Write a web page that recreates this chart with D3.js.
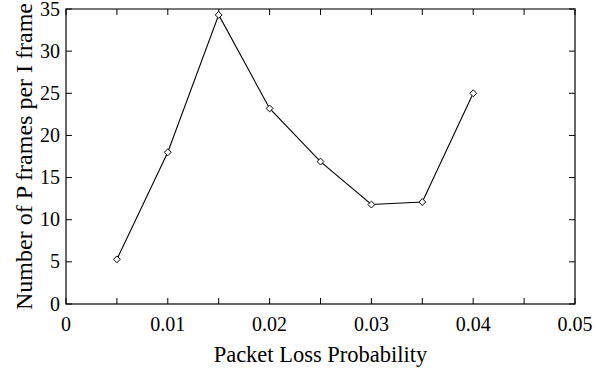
<!DOCTYPE html>
<html>
<head>
<meta charset="utf-8">
<script src="https://cdn.jsdelivr.net/npm/d3@7"></script>
<style>
  body { margin: 0; background: #fff; }
  text { font-family: "Liberation Serif", "Times New Roman", serif; fill: #000; }
</style>
</head>
<body>
<svg id="chart" width="605" height="369"></svg>
<script>
const lossProb = [0.005, 0.01, 0.015, 0.02, 0.025, 0.03, 0.035, 0.04];
const pPerI = [5.3, 18.0, 34.3, 23.2, 16.9, 11.8, 12.1, 25.0];
const xTicks = [0, 0.01, 0.02, 0.03, 0.04, 0.05];
const xMinor = [0.005, 0.015, 0.025, 0.035, 0.045];
const yTicks = [0, 5, 10, 15, 20, 25, 30, 35];

const margin = { left: 66, right: 30, top: 9, bottom: 65 };
const width = 605, height = 369;
const svg = d3.select('#chart');

const x = d3.scaleLinear().domain([0, 0.05]).range([margin.left, width - margin.right]);
const y = d3.scaleLinear().domain([0, 35]).range([height - margin.bottom, margin.top]);

const tickLen = 6;

// cadre
svg.append('rect')
    .attr('x', x(0)).attr('y', y(35))
    .attr('width', x(0.05) - x(0)).attr('height', y(0) - y(35))
    .attr('fill', 'none').attr('stroke', '#000').attr('stroke-width', 1.2);
svg.append('line')
    .attr('x1', x(0)).attr('x2', x(0.05)).attr('y1', y(35)).attr('y2', y(35))
    .attr('stroke', '#777').attr('stroke-width', 2);

// ticks x (bas et haut, vers l'intérieur)
const allX = xTicks.concat(xMinor);
svg.selectAll('.xt-b').data(allX).enter().append('line')
    .attr('x1', d => x(d)).attr('x2', d => x(d))
    .attr('y1', y(0)).attr('y2', y(0) - tickLen)
    .attr('stroke', '#000');
svg.selectAll('.xt-t').data(allX).enter().append('line')
    .attr('x1', d => x(d)).attr('x2', d => x(d))
    .attr('y1', y(35)).attr('y2', y(35) + tickLen)
    .attr('stroke', '#000');

// ticks y (gauche et droite)
svg.selectAll('.yt-l').data(yTicks).enter().append('line')
    .attr('x1', x(0)).attr('x2', x(0) + tickLen)
    .attr('y1', d => y(d)).attr('y2', d => y(d))
    .attr('stroke', '#000');
svg.selectAll('.yt-r').data(yTicks).enter().append('line')
    .attr('x1', x(0.05)).attr('x2', x(0.05) - tickLen)
    .attr('y1', d => y(d)).attr('y2', d => y(d))
    .attr('stroke', '#000');

// labels
svg.selectAll('.xl').data(xTicks).enter().append('text')
    .attr('x', d => x(d)).attr('y', y(0) + 27)
    .attr('text-anchor', 'middle').style('font-size', '20px')
    .text(d => d === 0 ? '0' : d3.format('.2f')(d));
svg.selectAll('.yl').data(yTicks).enter().append('text')
    .attr('x', x(0) - 6).attr('y', d => y(d) + 6.5)
    .attr('text-anchor', 'end').style('font-size', '20px')
    .text(d => d);

svg.append('text')
    .attr('x', (x(0) + x(0.05)) / 2).attr('y', 362)
    .attr('text-anchor', 'middle').style('font-size', '22.5px')
    .text('Packet Loss Probability');
svg.append('text')
    .attr('transform', `translate(32, ${(y(0) + y(35)) / 2}) rotate(-90)`)
    .attr('text-anchor', 'middle').style('font-size', '24px')
    .text('Number of P frames per I frame');

// courbe
const data = lossProb.map((p, i) => ({ p, v: pPerI[i] }));
const line = d3.line().x(d => x(d.p)).y(d => y(d.v));
svg.append('path').datum(data)
    .attr('d', line).attr('fill', 'none')
    .attr('stroke', '#000').attr('stroke-width', 1.1);

const sym = d3.symbol().type(d3.symbolDiamond2).size(30);
svg.selectAll('.pt').data(data).enter().append('path')
    .attr('d', sym)
    .attr('transform', d => `translate(${x(d.p)},${y(d.v)})`)
    .attr('fill', '#fff').attr('stroke', '#000').attr('stroke-width', 1);
</script>
</body>
</html>
